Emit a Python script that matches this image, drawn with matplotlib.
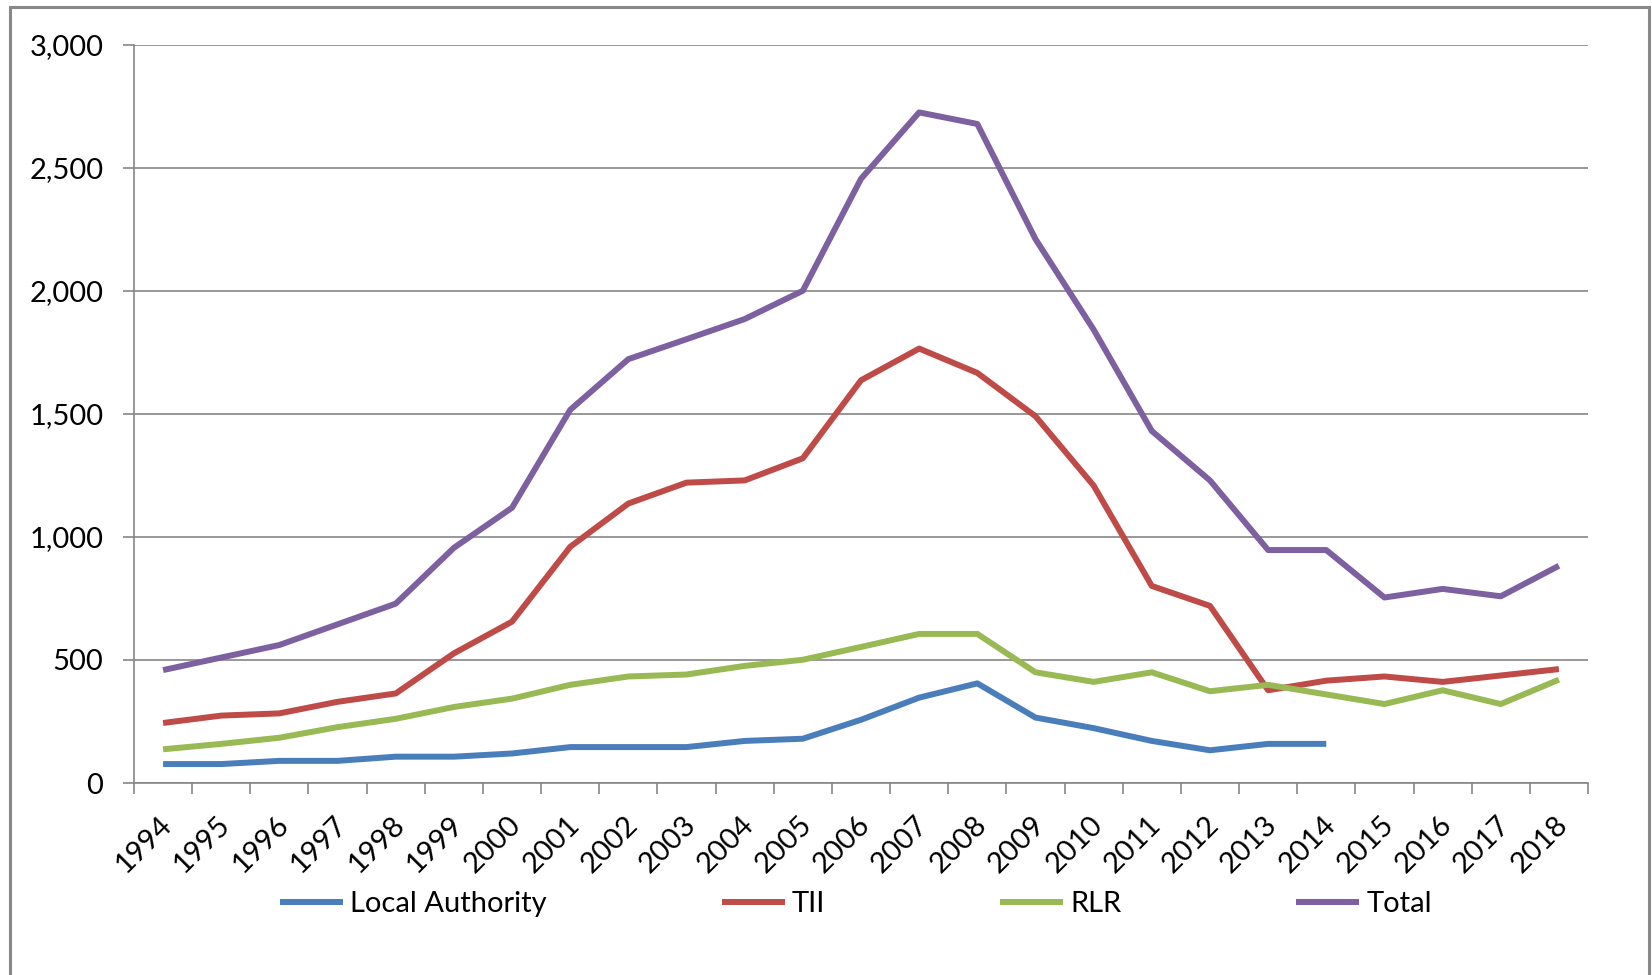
import numpy as np
import matplotlib.pyplot as plt
from matplotlib.patches import Rectangle
from matplotlib.ticker import FuncFormatter
from matplotlib.transforms import ScaledTranslation

plt.rcParams['font.family'] = ['Lato', 'DejaVu Sans']

# Data per year
years = list(range(1994, 2019))
local_authority = [77, 77, 90, 90, 107, 107, 120, 146, 146, 146, 171, 180, 257, 347, 405,
                   266, 223, 171, 133, 159, 159]
tii = [244, 274, 283, 330, 364, 527, 656, 960, 1136, 1221, 1230, 1320, 1637, 1766, 1667,
       1491, 1209, 801, 720, 377, 416, 433, 411, 437, 463]
rlr = [137, 159, 184, 227, 261, 309, 343, 399, 433, 441, 476, 501, 553, 606, 606,
       450, 411, 450, 373, 399, 360, 321, 377, 321, 420]
total = [459, 510, 561, 645, 729, 956, 1119, 1517, 1723, 1804, 1886, 2001, 2456, 2726, 2679,
         2211, 1843, 1431, 1230, 947, 947, 754, 789, 759, 883]

series = [
    ("Local Authority", local_authority, "#4A7EBB"),
    ("TII", tii, "#BE4B48"),
    ("RLR", rlr, "#98B954"),
    ("Total", total, "#7D60A0"),
]

W, H = 1652, 975
fig = plt.figure(figsize=(W / 100, H / 100), dpi=100)
ax = fig.add_axes([134 / W, 1 - 783 / H, (1588 - 134) / W, (783 - 45) / H])

# outer chart frame (runs off the bottom edge)
fig.patches.append(Rectangle((10 / W, -0.05), (1649 - 10) / W, 1 - 7 / H + 0.05,
                             transform=fig.transFigure, fill=False,
                             edgecolor="#888888", linewidth=2.2))

x = np.arange(len(years))
for name, vals, color in series:
    ax.plot(x[:len(vals)], vals, color=color, linewidth=4.3, label=name,
            solid_joinstyle="round", solid_capstyle="butt")

grey = "#868686"
fs = 21
ax.set_ylim(0, 3000)
ax.set_yticks(np.arange(0, 3001, 500))
ax.yaxis.set_major_formatter(FuncFormatter(lambda v, p: f"{int(v):,}"))
ax.grid(axis="y", color=grey, linewidth=1.2)
ax.set_axisbelow(True)

ax.set_xlim(-0.5, len(years) - 0.5)
ax.set_xticks(x)
ax.set_xticklabels([str(y) for y in years], rotation=45, ha="right", va="center",
                   rotation_mode="anchor")
ax.set_xticks(np.arange(-0.5, len(years), 1), minor=True)
ax.tick_params(axis="x", which="major", length=0, pad=27, labelsize=fs, colors="#000000")
ax.tick_params(axis="x", which="minor", length=8, width=1.2, color=grey, direction="out")
ax.tick_params(axis="y", length=8, width=1.2, color=grey, pad=14, labelsize=fs)
shift = ScaledTranslation(5 / 100, 0, fig.dpi_scale_trans)
for lbl in ax.get_xticklabels():
    lbl.set_transform(lbl.get_transform() + shift)

for s in ["top", "right"]:
    ax.spines[s].set_visible(False)
for s in ["left", "bottom"]:
    ax.spines[s].set_color(grey)
    ax.spines[s].set_linewidth(1.2)

fig.legend(loc="center", bbox_to_anchor=(856 / W, 1 - 904 / H), ncol=4, frameon=False,
           fontsize=fs, handlelength=2.15, handletextpad=0.25, columnspacing=6.0)

fig.savefig("out.png", dpi=100)
